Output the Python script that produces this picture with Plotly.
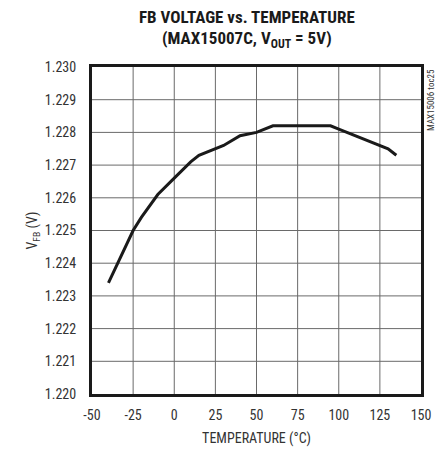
import plotly.graph_objects as go

temperature = [-40, -25, -20, -10, 0, 10, 15, 20, 30, 40, 50, 60, 65, 90, 95, 100, 110, 120, 125, 130, 135]
vfb = [1.2234, 1.2250, 1.2254, 1.2261, 1.2266, 1.2271, 1.2273, 1.2274, 1.2276, 1.2279, 1.2280,
       1.2282, 1.2282, 1.2282, 1.2282, 1.2281, 1.2279, 1.2277, 1.2276, 1.2275, 1.2273]

x_ticks = [-50, -25, 0, 25, 50, 75, 100, 125, 150]
y_ticks = [1.220, 1.221, 1.222, 1.223, 1.224, 1.225, 1.226, 1.227, 1.228, 1.229, 1.230]

FONT = "Liberation Sans Narrow, Roboto Condensed, Liberation Sans, Arial, sans-serif"
TICKFONT = dict(family=FONT, size=14, color="#333333")
GRID = dict(color="#6a6a6a", width=1)

fig = go.Figure()

# grid lines at each tick (drawn as shapes below the data)
for xv in x_ticks[1:-1]:
    fig.add_shape(type="line", xref="x", yref="paper", x0=xv, x1=xv, y0=0, y1=1,
                  line=GRID, layer="below")
for yv in y_ticks[1:-1]:
    fig.add_shape(type="line", xref="paper", yref="y", x0=0, x1=1, y0=yv, y1=yv,
                  line=GRID, layer="below")

fig.add_trace(go.Scatter(x=temperature, y=vfb, mode="lines",
                         line=dict(color="#1a1a1a", width=3), showlegend=False))

axis_common = dict(showgrid=False,
                   showline=True, linecolor="#1a1a1a", linewidth=3, mirror=True,
                   zeroline=False, automargin=False,
                   ticks="outside", tickcolor="rgba(0,0,0,0)", tickfont=TICKFONT)

fig.update_xaxes(range=[-50, 150], tickmode="array", tickvals=x_ticks, ticktext=[str(v) for v in x_ticks],
                 ticklen=6,
                 title=dict(text="TEMPERATURE (°C)", font=TICKFONT, standoff=12),
                 **axis_common)
fig.update_yaxes(range=[1.220, 1.230], tickmode="array", tickvals=y_ticks, ticktext=[f"{v:.3f}" for v in y_ticks],
                 ticklen=10,
                 title=dict(text="V<sub>FB</sub> (V)", font=TICKFONT, standoff=4),
                 **axis_common)

fig.update_layout(
    template="none",
    width=438, height=457,
    margin=dict(l=92, r=17, t=67, b=63, autoexpand=False),
    plot_bgcolor="white", paper_bgcolor="white",
    annotations=[
        dict(text="<b>FB VOLTAGE vs. TEMPERATURE</b>", xref="paper", yref="paper",
             x=0.47, y=1.0, yshift=50, xanchor="center", yanchor="middle", showarrow=False,
             font=dict(family=FONT, size=17, color="#1a1a1a")),
        dict(text="<b>(MAX15007C, V<sub>OUT</sub> = 5V)</b>", xref="paper", yref="paper",
             x=0.47, y=1.0, yshift=28, xanchor="center", yanchor="middle", showarrow=False,
             font=dict(family=FONT, size=17, color="#1a1a1a")),
        dict(text="MAX15006 toc25", textangle=-90, xref="paper", yref="paper",
             x=1.0, y=1.0, xanchor="left", yanchor="top", xshift=3, showarrow=False,
             font=dict(family=FONT, size=9, color="#333333")),
    ],
)

fig.write_html("out.html", config={"displayModeBar": False},
               post_script="document.body.style.margin='0';document.body.style.padding='0';")
